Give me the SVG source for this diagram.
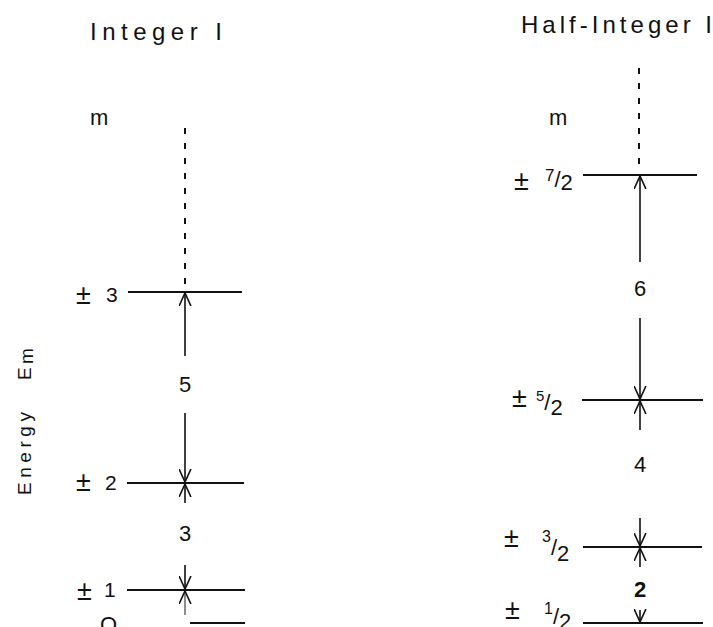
<svg xmlns="http://www.w3.org/2000/svg" width="713" height="627" viewBox="0 0 713 627">
<style>
text{font-family:"Liberation Sans","DejaVu Sans",sans-serif;fill:#111}
.lvl{stroke:#111;stroke-width:2;fill:none}
.arr{stroke:#111;stroke-width:1.6;fill:none;marker-end:url(#head)}
.dash{stroke:#111;stroke-width:2;stroke-dasharray:6 9;fill:none}
.t{font-size:24px}
.n{font-size:22px;text-anchor:middle}
.pm{font-size:27px}
.d{font-size:21px}
.fr{font-size:22px}
</style>
<defs>
<marker id="head" viewBox="0 0 12 12" refX="12" refY="6" markerWidth="13" markerHeight="13" markerUnits="userSpaceOnUse" orient="auto">
<path d="M0,0.5 L12,6 L0,11.5" fill="none" stroke="#111" stroke-width="1.5"/>
</marker>
</defs>
<rect width="713" height="627" fill="#fff"/>

<g id="titles">
<text x="90" y="40" class="t" textLength="132" lengthAdjust="spacing">Integer I</text>
<text x="521" y="33" class="t" textLength="191" lengthAdjust="spacing">Half-Integer I</text>
<text x="90" y="125" font-size="22">m</text>
<text x="549" y="125" font-size="22">m</text>
</g>

<g id="energy-axis" transform="translate(31,495) rotate(-90)">
<text x="0" y="0" font-size="19" textLength="83" lengthAdjust="spacing">Energy</text>
<text x="115" y="0" font-size="19">E</text>
<text x="131" y="2" font-size="19">m</text>
</g>

<g id="connectors">
<line class="dash" x1="185" y1="128" x2="185" y2="288"/>
<line class="arr" x1="185" y1="356" x2="185" y2="293"/>
<line class="arr" x1="185" y1="413" x2="185" y2="482"/>
<line class="arr" x1="185" y1="503" x2="185" y2="484"/>
<line class="arr" x1="185" y1="565" x2="185" y2="589"/>
<line class="arr" x1="185" y1="615" x2="185" y2="591" stroke-opacity="0.6"/>
<line class="dash" x1="639" y1="68" x2="639" y2="172"/>
<line class="arr" x1="640" y1="262" x2="640" y2="176"/>
<line class="arr" x1="640" y1="318" x2="640" y2="399"/>
<line class="arr" x1="640" y1="430" x2="640" y2="401"/>
<line class="arr" x1="640" y1="518" x2="640" y2="546"/>
<line class="arr" x1="640" y1="567" x2="640" y2="548"/>
<line class="arr" x1="640" y1="610" x2="640" y2="622"/>
</g>

<g id="gap-labels">
<text x="185" y="392" class="n">5</text>
<text x="185" y="541" class="n">3</text>
<text x="640" y="296" class="n">6</text>
<text x="640" y="472" class="n">4</text>
<text x="640" y="597" class="n" font-weight="bold">2</text>
</g>

<g id="level-p3">
<line class="lvl" x1="128" y1="292" x2="242" y2="292"/>
<text x="76" y="304" class="pm">±</text>
<text x="106" y="302" class="d">3</text>
</g>
<g id="level-p2">
<line class="lvl" x1="127" y1="483" x2="244" y2="483" stroke-width="1.6"/>
<text x="76" y="491" class="pm">±</text>
<text x="105" y="490" class="d">2</text>
</g>
<g id="level-p1">
<line class="lvl" x1="127" y1="590" x2="245" y2="590" stroke-width="1.5"/>
<text x="77" y="600" class="pm">±</text>
<text x="104" y="597" class="d">1</text>
</g>
<g id="level-0">
<line class="lvl" x1="190" y1="623" x2="245" y2="623" stroke="#999" stroke-width="1.2"/>
<text x="100" y="632" font-size="22">O</text>
</g>

<g id="level-h7">
<line class="lvl" x1="583" y1="175" x2="697" y2="175"/>
<text x="514" y="190" class="pm">±</text>
<text x="545" y="181" class="fr"><tspan font-size="17">7</tspan><tspan dy="6">/</tspan><tspan dy="3">2</tspan></text>
</g>
<g id="level-h5">
<line class="lvl" x1="582" y1="400" x2="703" y2="400"/>
<text x="512" y="407" class="pm">±</text>
<text x="536" y="401" class="fr"><tspan font-size="15">5</tspan><tspan dy="9">/</tspan><tspan dy="5">2</tspan></text>
</g>
<g id="level-h3">
<line class="lvl" x1="583" y1="547" x2="702" y2="547"/>
<text x="504" y="547" class="pm">±</text>
<text x="542" y="542" class="fr"><tspan font-size="16">3</tspan><tspan dy="13">/</tspan><tspan dy="6">2</tspan></text>
</g>
<g id="level-h1">
<line class="lvl" x1="583" y1="623" x2="703" y2="623"/>
<text x="505" y="619" class="pm">±</text>
<text x="544" y="614" class="fr"><tspan font-size="16">1</tspan><tspan dy="10">/</tspan><tspan dy="5">2</tspan></text>
</g>
</svg>
